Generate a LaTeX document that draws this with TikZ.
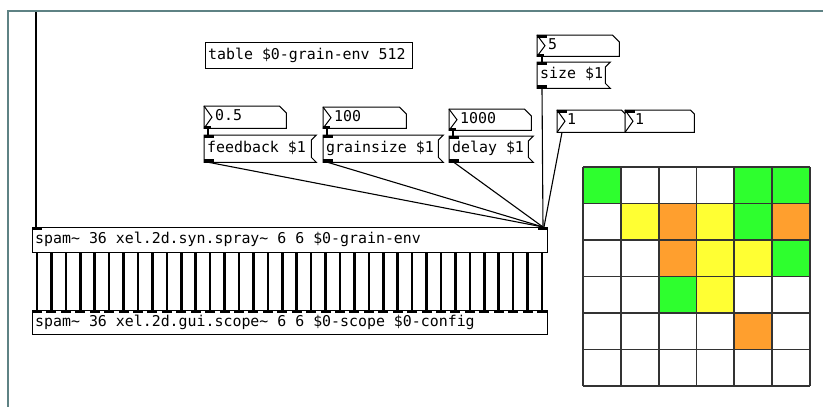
\documentclass[tikz,border=0pt]{standalone}
\usepackage{fontspec}
\newfontfamily\pdmono{DejaVu Sans Mono}
\definecolor{framec}{RGB}{94,130,132}
\definecolor{cellg}{RGB}{46,255,46}
\definecolor{celly}{RGB}{255,255,51}
\definecolor{cello}{RGB}{255,159,46}
\definecolor{cellw}{RGB}{255,255,255}
\definecolor{gridc}{RGB}{51,51,51}
\newcommand\pdmsg[1]{\draw[line width=1pt] (#1.north west) -- ([xshift=5pt]#1.north east) -- ([yshift=-5pt]#1.north east) -- ([yshift=5pt]#1.south east) -- ([xshift=5pt]#1.south east) -- (#1.south west) -- cycle;}
\newcommand\pdnum[2]{\draw[line width=1pt, fill=white] (#1.north west) -- ([xshift=-#2]#1.north east) -- ([yshift=-#2]#1.north east) -- (#1.south east) -- (#1.south west) -- cycle;
 \draw[line width=1pt] (#1.north west) -- ([xshift=8pt]#1.west) -- (#1.south west);}
\newcommand\pdinl[1]{\fill (#1.north west) rectangle ([xshift=10pt,yshift=-3pt]#1.north west);}
\newcommand\pdoutl[1]{\fill (#1.south west) rectangle ([xshift=10pt,yshift=3pt]#1.south west);}
\begin{document}
\begin{tikzpicture}[x=1pt,y=-1pt,
  pdtext/.style={font=\pdmono\fontsize{14.9}{16}\selectfont, inner sep=0pt, anchor=west, text=black, text height=11pt, text depth=3.5pt},
  objbox/.style={draw=black, line width=1pt, inner sep=0pt, anchor=north west, fill=white},
  plainbox/.style={inner sep=0pt, anchor=north west},
  cord/.style={line width=1.1pt, draw=black},
  sigcord/.style={line width=2.6pt, draw=black},
  framel/.style={draw=framec, line width=2.5pt},
  gridl/.style={draw=gridc, line width=1.8pt}
]
\useasboundingbox (0,0) rectangle (823,407);
\fill[white] (0,0) rectangle (823,407);
% frame
\draw[framel] (8,407) -- (8,11) -- (823,11);

% objects
\node[objbox, minimum width=207pt, minimum height=26pt, label={[pdtext, xshift=3pt]west:table \$0-grain-env 512}] (tab) at (205,42) {};
\node[objbox, minimum width=515pt, minimum height=25pt, label={[pdtext, xshift=3pt]west:spam\textasciitilde{} 36 xel.2d.syn.spray\textasciitilde{} 6 6 \$0-grain-env}] (spam1) at (32,227) {};
\node[objbox, minimum width=515pt, minimum height=24pt, label={[pdtext, xshift=3pt]west:spam\textasciitilde{} 36 xel.2d.gui.scope\textasciitilde{} 6 6 \$0-scope \$0-config}] (spam2) at (32,310) {};

% number boxes
\node[plainbox, minimum width=82pt, minimum height=22pt] (n05) at (204,106) {};
\node[plainbox, minimum width=83pt, minimum height=21pt] (n100) at (323,107) {};
\node[plainbox, minimum width=82pt, minimum height=21pt] (n1000) at (449,109) {};
\node[plainbox, minimum width=82pt, minimum height=21pt] (n5) at (537,35) {};
\node[plainbox, minimum width=68pt, minimum height=22pt] (n1a) at (557,110) {};
\node[plainbox, minimum width=69pt, minimum height=22pt] (n1b) at (625,110) {};

% message boxes
\node[plainbox, minimum width=107pt, minimum height=27pt] (fb) at (204,135) {};
\node[plainbox, minimum width=115pt, minimum height=27pt] (gs) at (323,135) {};
\node[plainbox, minimum width=79pt, minimum height=26pt] (dl) at (449,136) {};
\node[plainbox, minimum width=68pt, minimum height=26pt] (sz) at (537,62) {};

% cords
\coordinate (lefttop) at (36,12);
\draw[sigcord] (lefttop) -- ([xshift=4pt]spam1.north west);
\draw[cord] ([xshift=5pt]fb.south west) -- ([xshift=-5pt]spam1.north east);
\draw[cord] ([xshift=5pt]gs.south west) -- ([xshift=-5pt]spam1.north east);
\draw[cord] ([xshift=5pt]dl.south west) -- ([xshift=-5pt]spam1.north east);
\draw[cord] ([xshift=5pt]sz.south west) -- ([xshift=-5pt]spam1.north east);
\draw[cord] ([xshift=5pt]n1a.south west) -- ([xshift=-4pt]spam1.north east);
\draw[cord] ([xshift=4pt]n05.south west) -- ([xshift=4pt]fb.north west);
\draw[cord] ([xshift=4pt]n100.south west) -- ([xshift=4pt]gs.north west);
\draw[cord] ([xshift=4pt]n1000.south west) -- ([xshift=4pt]dl.north west);
\draw[cord] ([xshift=5pt]n5.south west) -- ([xshift=5pt]sz.north west);
\foreach \i in {0,...,35}{
  \draw[sigcord] ([xshift={5pt+\i*14.4286pt}]spam1.south west) -- ([xshift={5pt+\i*14.4286pt}]spam2.north west);
  \fill ([xshift={\i*14.4286pt}]spam2.north west) rectangle ([xshift={10pt+\i*14.4286pt},yshift=-3pt]spam2.north west);
}

% shapes of boxes
\pdnum{n05}{7pt}\pdnum{n100}{7pt}\pdnum{n1000}{7pt}\pdnum{n5}{7pt}\pdnum{n1a}{4pt}\pdnum{n1b}{4pt}
\pdmsg{fb}\pdmsg{gs}\pdmsg{dl}\pdmsg{sz}

% texts
\node[pdtext, xshift=11pt] (t05) at (n05.west) {0.5};
\node[pdtext, xshift=11pt] (t100) at (n100.west) {100};
\node[pdtext, xshift=11pt] (t1000) at (n1000.west) {1000};
\node[pdtext, xshift=11pt] (t5) at (n5.west) {5};
\node[pdtext, xshift=10pt] (t1a) at (n1a.west) {1};
\node[pdtext, xshift=10pt] (t1b) at (n1b.west) {1};
\node[pdtext, xshift=3pt] (tfb) at (fb.west) {feedback \$1};
\node[pdtext, xshift=3pt] (tgs) at (gs.west) {grainsize \$1};
\node[pdtext, xshift=3pt] (tdl) at (dl.west) {delay \$1};
\node[pdtext, xshift=3pt] (tsz) at (sz.west) {size \$1};

% iolets
\pdinl{spam1}
\fill ([xshift=-10pt]spam1.north east) rectangle ([yshift=-3pt]spam1.north east);
\pdinl{fb}\pdinl{gs}\pdinl{dl}\pdinl{sz}\pdinl{n5}\pdinl{n1a}\pdinl{n1b}
\pdoutl{fb}\pdoutl{gs}\pdoutl{dl}\pdoutl{sz}
\fill (n05.south west) rectangle ([xshift=7pt,yshift=2pt]n05.south west);
\fill (n100.south west) rectangle ([xshift=7pt,yshift=2pt]n100.south west);
\fill (n1000.south west) rectangle ([xshift=7pt,yshift=2pt]n1000.south west);
\fill (n5.south west) rectangle ([xshift=7pt,yshift=2pt]n5.south west);

% grid of cells
\foreach \col [count=\i from 0] in {g,w,w,w,g,g, w,y,o,y,g,o, w,w,o,y,y,g, w,w,g,y,w,w, w,w,w,w,o,w, w,w,w,w,w,w}{
  \pgfmathtruncatemacro\cx{mod(\i,6)}
  \pgfmathtruncatemacro\cy{div(\i,6)}
  \fill[cell\col] ({583+\cx*37.833},{167+\cy*36.5}) rectangle ({583+(\cx+1)*37.833},{167+(\cy+1)*36.5});
}
\foreach \k in {0,...,6}{
  \draw[gridl] ({583+\k*37.833},167) -- ({583+\k*37.833},386);
  \draw[gridl] (583,{167+\k*36.5}) -- (810,{167+\k*36.5});
}
\end{tikzpicture}
\end{document}
